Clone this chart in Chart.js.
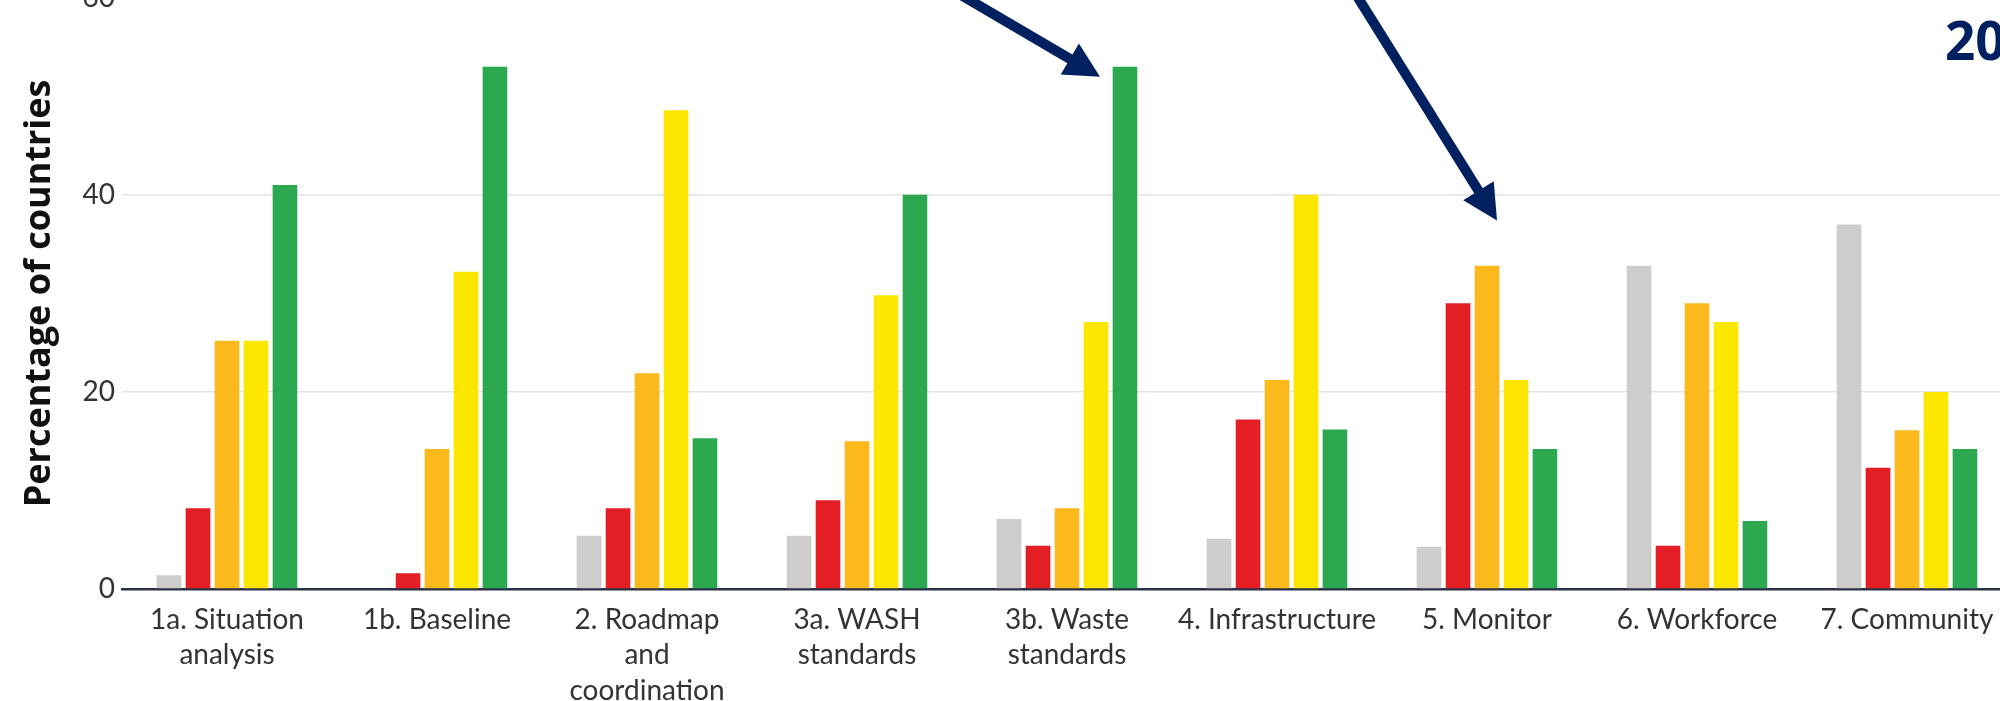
<!DOCTYPE html>
<html>
<head>
<meta charset="utf-8">
<script src="https://cdn.jsdelivr.net/npm/chart.js@4"></script>
<style>
  html, body { margin: 0; padding: 0; background: #fff; }
  #wrap { position: relative; width: 2000px; height: 701px; overflow: hidden; background: #fff; }
  #canvas { position: absolute; left: 0; top: -26px; }
  #year { position: absolute; left: 1945px; top: 13px; font: bold 53px "Open Sans", sans-serif; line-height: 53px; color: #002060; white-space: nowrap; }
</style>
</head>
<body>
<div id="wrap">
  <canvas id="canvas" width="2012" height="735" style="width:2012px;height:735px"></canvas>
  <div id="year">20</div>
</div>
<script>
var categories = [
  ['1a. Situation', 'analysis'],
  '1b. Baseline',
  ['2. Roadmap', 'and', 'coordination'],
  ['3a. WASH', 'standards'],
  ['3b. Waste', 'standards'],
  '4. Infrastructure',
  '5. Monitor',
  '6. Workforce',
  '7. Community'
];

// percentage of countries per level
var grayValues   = [1.4, 0,    5.4,  5.4,  7.1,  5.1,  4.3,  32.8, 37.0];
var redValues    = [8.2, 1.6,  8.2,  9.0,  4.4,  17.2, 29.0, 4.4,  12.3];
var orangeValues = [25.2, 14.2, 21.9, 15.0, 8.2, 21.2, 32.8, 29.0, 16.1];
var yellowValues = [25.2, 32.2, 48.6, 29.8, 27.1, 40.0, 21.2, 27.1, 20.0];
var greenValues  = [41.0, 53.0, 15.3, 40.0, 53.0, 16.2, 14.2, 6.9,  14.2];

var yTicks = [0, 20, 40, 60];

var colors = {
  gray: '#cdcdcd',
  red: '#e31e25',
  orange: '#fbb91b',
  yellow: '#fde700',
  green: '#2ca850',
  navy: '#002060',
  axis: '#2a3147'
};

// arrows pointing at groups (tip anchored on category + value)
var arrows = [
  { cat: 4, dx: 33, value: 52.0, dir: [-126, -74], len: 200 },
  { cat: 6, dx: 10, value: 37.4, dir: [-136, -218], len: 320 }
];

var arrowPlugin = {
  id: 'arrows',
  afterDraw: function(chart) {
    var ctx = chart.ctx;
    var xs = chart.scales.x, ys = chart.scales.y;
    ctx.save();
    ctx.fillStyle = colors.navy;
    ctx.strokeStyle = colors.navy;
    arrows.forEach(function(a) {
      var tx = xs.getPixelForValue(a.cat) + a.dx;
      var ty = ys.getPixelForValue(a.value);
      var l = Math.sqrt(a.dir[0] * a.dir[0] + a.dir[1] * a.dir[1]);
      var ux = a.dir[0] / l, uy = a.dir[1] / l;
      var nx = -uy, ny = ux;
      var headLen = 35, headHalf = 18;
      ctx.lineWidth = 10;
      ctx.lineCap = 'butt';
      ctx.beginPath();
      ctx.moveTo(tx + ux * (headLen - 4), ty + uy * (headLen - 4));
      ctx.lineTo(tx + ux * a.len, ty + uy * a.len);
      ctx.stroke();
      var bx = tx + ux * headLen, by = ty + uy * headLen;
      ctx.beginPath();
      ctx.moveTo(tx, ty);
      ctx.lineTo(bx + nx * headHalf, by + ny * headHalf);
      ctx.lineTo(bx - nx * headHalf, by - ny * headHalf);
      ctx.closePath();
      ctx.fill();
    });
    ctx.restore();
  }
};

function makeSet(label, data, color) {
  return {
    label: label,
    data: data,
    backgroundColor: color,
    borderWidth: 0,
    barPercentage: 0.85,
    categoryPercentage: 0.69
  };
}

var config = {
  type: 'bar',
  data: {
    labels: categories,
    datasets: [
      makeSet('No data', grayValues, colors.gray),
      makeSet('Not started', redValues, colors.red),
      makeSet('Limited', orangeValues, colors.orange),
      makeSet('Moderate', yellowValues, colors.yellow),
      makeSet('Advanced', greenValues, colors.green)
    ]
  },
  options: {
    responsive: false,
    animation: false,
    layout: { padding: 0 },
    plugins: {
      legend: { display: false },
      tooltip: { enabled: false }
    },
    scales: {
      x: {
        grid: { display: false, drawTicks: false },
        border: { display: true, color: colors.axis, width: 2.5 },
        ticks: {
          color: '#333',
          font: { family: 'Lato', size: 28, lineHeight: 1.27 },
          padding: 13,
          maxRotation: 0,
          autoSkip: false
        },
        afterFit: function(s) { s.height = 120; }
      },
      y: {
        min: 0,
        max: 60,
        afterBuildTicks: function(s) {
          s.ticks = yTicks.map(function(v) { return { value: v }; });
        },
        grid: {
          drawTicks: false,
          lineWidth: 1.5,
          color: function(c) { return c.tick && c.tick.value === 0 ? 'rgba(0,0,0,0)' : '#e4e4e4'; }
        },
        border: { display: false },
        ticks: {
          color: '#333',
          font: { family: 'Lato', size: 28 },
          padding: 7
        },
        title: {
          display: true,
          text: 'Percentage of countries',
          color: '#111',
          font: { family: 'Open Sans', size: 36, weight: 'bold' },
          padding: { top: 18, bottom: 0 }
        },
        afterFit: function(s) { s.width = 122; }
      }
    }
  },
  plugins: [arrowPlugin]
};

window.onload = function() {
  window.myBar = new Chart(document.getElementById('canvas'), config);
};
</script>
</body>
</html>
